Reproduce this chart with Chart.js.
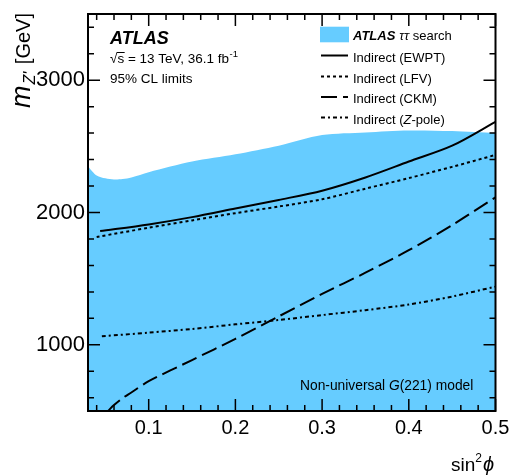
<!DOCTYPE html>
<html>
<head>
<meta charset="utf-8">
<script src="https://cdn.jsdelivr.net/npm/chart.js@4.4.0/dist/chart.umd.min.js"></script>
<style>
  html, body { margin: 0; background: #fff; }
  #wrap { width: 511px; height: 475px; }
</style>
</head>
<body>
<div id="wrap"><canvas id="c"></canvas></div>
<script>
// values (x = sin^2 phi, y = m_Z' in GeV)
const bandX = [0.03, 0.035, 0.04, 0.05, 0.06, 0.07, 0.08, 0.1, 0.15, 0.2, 0.25, 0.3, 0.35, 0.4, 0.45, 0.5];
const bandY = [2350, 2310, 2280, 2258, 2250, 2253, 2265, 2305, 2385, 2440, 2505, 2585, 2605, 2620, 2615, 2600];

const ewptX = [0.044, 0.1, 0.15, 0.2, 0.25, 0.3, 0.35, 0.4, 0.45, 0.5];
const ewptY = [1860, 1910, 1965, 2030, 2095, 2165, 2265, 2385, 2505, 2685];

const lfvX = [0.04, 0.1, 0.15, 0.2, 0.25, 0.3, 0.35, 0.4, 0.45, 0.5];
const lfvY = [1815, 1885, 1940, 1995, 2045, 2100, 2180, 2260, 2345, 2435];

const ckmX = [0.053, 0.06, 0.07, 0.08, 0.1, 0.15, 0.2, 0.25, 0.3, 0.35, 0.4, 0.45, 0.5];
const ckmY = [500, 545, 598, 640, 725, 885, 1045, 1215, 1385, 1545, 1715, 1905, 2115];

const zpoleX = [0.046, 0.1, 0.15, 0.2, 0.25, 0.3, 0.35, 0.4, 0.45, 0.5];
const zpoleY = [1065, 1092, 1120, 1155, 1188, 1225, 1262, 1305, 1365, 1440];

const xTicks = [0.1, 0.2, 0.3, 0.4, 0.5];
const yTicks = [1000, 2000, 3000];

const BLUE = '#66ccff';
const FONT = '"Liberation Sans", Arial, Helvetica, sans-serif';

const pts = (xs, ys) => xs.map((x, i) => ({ x: x, y: ys[i] }));

const lineSet = (label, xs, ys, dash) => ({
    label: label, data: pts(xs, ys), borderColor: '#000', borderWidth: 2,
    borderDash: dash, pointRadius: 0, fill: false, tension: 0.3, borderCapStyle: 'butt', order: 0
});

const datasets = [
    { label: 'ATLAS tautau search', data: pts(bandX, bandY), borderWidth: 0, borderColor: BLUE,
      backgroundColor: BLUE, pointRadius: 0, fill: 'start', tension: 0.3, order: 10 },
    lineSet('Indirect (EWPT)', ewptX, ewptY, []),
    lineSet('Indirect (LFV)', lfvX, lfvY, [3, 3]),
    lineSet('Indirect (CKM)', ckmX, ckmY, [16, 6]),
    lineSet('Indirect (Z-pole)', zpoleX, zpoleY, [4, 3, 2, 3])
];

// draw inward ticks on all four sides + frame
const frame = {
    id: 'frame',
    afterDatasetsDraw(chart) {
        const { ctx, chartArea: a, scales: { x, y } } = chart;
        ctx.save();
        ctx.strokeStyle = '#000';
        ctx.lineWidth = 1.5;
        ctx.beginPath();
        for (let v = 0.04; v <= 0.5001; v += 0.02) {
            const px = x.getPixelForValue(v);
            const major = Math.abs(v * 10 - Math.round(v * 10)) < 1e-6;
            const len = major ? 12 : 6;
            ctx.moveTo(px, a.bottom); ctx.lineTo(px, a.bottom - len);
            ctx.moveTo(px, a.top); ctx.lineTo(px, a.top + len);
        }
        for (let v = 600; v <= 3400; v += 200) {
            const py = y.getPixelForValue(v);
            const len = v % 1000 === 0 ? 12 : 6;
            ctx.moveTo(a.left, py); ctx.lineTo(a.left + len, py);
            ctx.moveTo(a.right, py); ctx.lineTo(a.right - len, py);
        }
        ctx.stroke();
        ctx.lineWidth = 2;
        ctx.strokeRect(a.left, a.top, a.right - a.left, a.bottom - a.top);
        ctx.restore();
    }
};

// texts, legend, axis titles
const annotations = {
    id: 'annotations',
    afterDraw(chart) {
        const ctx = chart.ctx;
        ctx.save();
        ctx.fillStyle = '#000';
        ctx.textBaseline = 'alphabetic';
        ctx.textAlign = 'left';

        // ATLAS label block
        ctx.font = 'italic bold 18px ' + FONT;
        ctx.fillText('ATLAS', 110, 43.5);
        ctx.font = '13.5px ' + FONT;
        let xx = 110;
        ctx.fillText('\u221A', xx, 63);
        xx += ctx.measureText('\u221A').width;
        const sW = ctx.measureText('s').width;
        ctx.fillText('s', xx, 63);
        ctx.fillRect(xx - 0.5, 52, sW + 1, 1);
        xx += sW;
        const t1 = ' = 13 TeV, 36.1 fb';
        ctx.fillText(t1, xx, 63);
        xx += ctx.measureText(t1).width;
        ctx.font = '9.5px ' + FONT;
        ctx.fillText('-1', xx + 0.5, 57);
        ctx.font = '13.5px ' + FONT;
        ctx.fillText('95% CL limits', 110, 82.5);

        // model label
        xx = 300;
        const pieces = [['Non-universal ', ''], ['G', 'italic '], ['(221) model', '']];
        pieces.forEach(p => {
            ctx.font = p[1] + '13.8px ' + FONT;
            ctx.fillText(p[0], xx, 389.5);
            xx += ctx.measureText(p[0]).width;
        });

        // legend
        ctx.fillStyle = BLUE;
        ctx.fillRect(320, 26.7, 29, 15.6);
        ctx.fillStyle = '#000';
        xx = 353;
        ctx.font = 'italic bold 13px ' + FONT;
        ctx.fillText('ATLAS', xx, 39.5);
        xx += ctx.measureText('ATLAS').width + 4;
        ctx.font = 'italic 13px ' + FONT;
        ctx.fillText('\u03C4\u03C4', xx, 39.5);
        xx += ctx.measureText('\u03C4\u03C4').width;
        ctx.font = '13px ' + FONT;
        ctx.fillText(' search', xx, 39.5);

        const rows = [
            ['Indirect (EWPT)', 55.5, 61.7],
            ['Indirect (LFV)', 76.5, 82.7],
            ['Indirect (CKM)', 97, 103.3],
            ['Indirect (Z-pole)', 117.5, 124]
        ];
        rows.forEach((r, i) => {
            const ds = chart.data.datasets[i + 1];
            ctx.save();
            ctx.strokeStyle = '#000';
            ctx.lineWidth = 2;
            ctx.setLineDash(ds.borderDash);
            ctx.beginPath();
            ctx.moveTo(321, r[1]); ctx.lineTo(348, r[1]);
            ctx.stroke();
            ctx.restore();
            ctx.font = '13px ' + FONT;
            if (i === 3) {
                let px = 353;
                ctx.fillText('Indirect (', px, r[2]);
                px += ctx.measureText('Indirect (').width;
                ctx.font = 'italic 13px ' + FONT;
                ctx.fillText('Z', px, r[2]);
                px += ctx.measureText('Z').width;
                ctx.font = '13px ' + FONT;
                ctx.fillText('-pole)', px, r[2]);
            } else {
                ctx.fillText(r[0], 353, r[2]);
            }
        });

        // x title: sin^2 phi, right aligned at the axis end
        ctx.font = '19px ' + FONT;
        const sinW = ctx.measureText('sin').width;
        ctx.font = '12px ' + FONT;
        const twoW = ctx.measureText('2').width;
        ctx.font = 'italic 20px ' + FONT;
        const phiW = ctx.measureText('\u03D5').width;
        xx = 494 - sinW - twoW - phiW - 1;
        ctx.font = '19px ' + FONT;
        ctx.fillText('sin', xx, 471);
        xx += sinW;
        ctx.font = '12px ' + FONT;
        ctx.fillText('2', xx, 462);
        xx += twoW + 1;
        ctx.font = 'italic 20px ' + FONT;
        ctx.fillText('\u03D5', xx, 471);

        // y title: m_Z' [GeV], rotated, ending at the top of the axis
        ctx.save();
        ctx.font = 'italic 27px ' + FONT;
        const mW = ctx.measureText('m').width + 1;
        ctx.font = 'italic 16px ' + FONT;
        const zW = ctx.measureText("Z'").width + 2;
        ctx.font = '20px ' + FONT;
        const gW = ctx.measureText(' [GeV]').width;
        const total = mW + zW + gW;
        ctx.translate(30, 13 + total);
        ctx.rotate(-Math.PI / 2);
        ctx.font = 'italic 27px ' + FONT;
        ctx.fillText('m', 0, 0);
        ctx.font = 'italic 16px ' + FONT;
        ctx.fillText("Z'", mW, 5);
        ctx.font = '20px ' + FONT;
        ctx.fillText(' [GeV]', mW + zW, 0);
        ctx.restore();

        ctx.restore();
    }
};

new Chart(document.getElementById('c'), {
    type: 'line',
    data: { datasets: datasets },
    options: {
        responsive: true,
        maintainAspectRatio: false,
        animation: false,
        layout: { padding: { top: 14, right: 15.5, left: 0, bottom: 0 } },
        plugins: { legend: { display: false }, tooltip: { enabled: false } },
        scales: {
            x: {
                type: 'linear', min: 0.03, max: 0.5,
                afterBuildTicks: s => { s.ticks = xTicks.map(v => ({ value: v })); },
                afterFit: s => { s.height = 64; s.paddingRight = 0; s.paddingLeft = 0; },
                grid: { display: false, drawTicks: false },
                border: { display: false },
                ticks: { color: '#000', font: { family: FONT, size: 20 }, padding: 5,
                         maxRotation: 0, autoSkip: false, callback: v => v.toFixed(1) }
            },
            y: {
                type: 'linear', min: 500, max: 3500,
                afterBuildTicks: s => { s.ticks = yTicks.map(v => ({ value: v })); },
                afterFit: s => { s.width = 88; s.paddingTop = 0; s.paddingBottom = 0; },
                grid: { display: false, drawTicks: false },
                border: { display: false },
                ticks: { color: '#000', font: { family: FONT, size: 22 }, padding: 3,
                         autoSkip: false, callback: v => String(v) }
            }
        }
    },
    plugins: [frame, annotations]
});
</script>
</body>
</html>
